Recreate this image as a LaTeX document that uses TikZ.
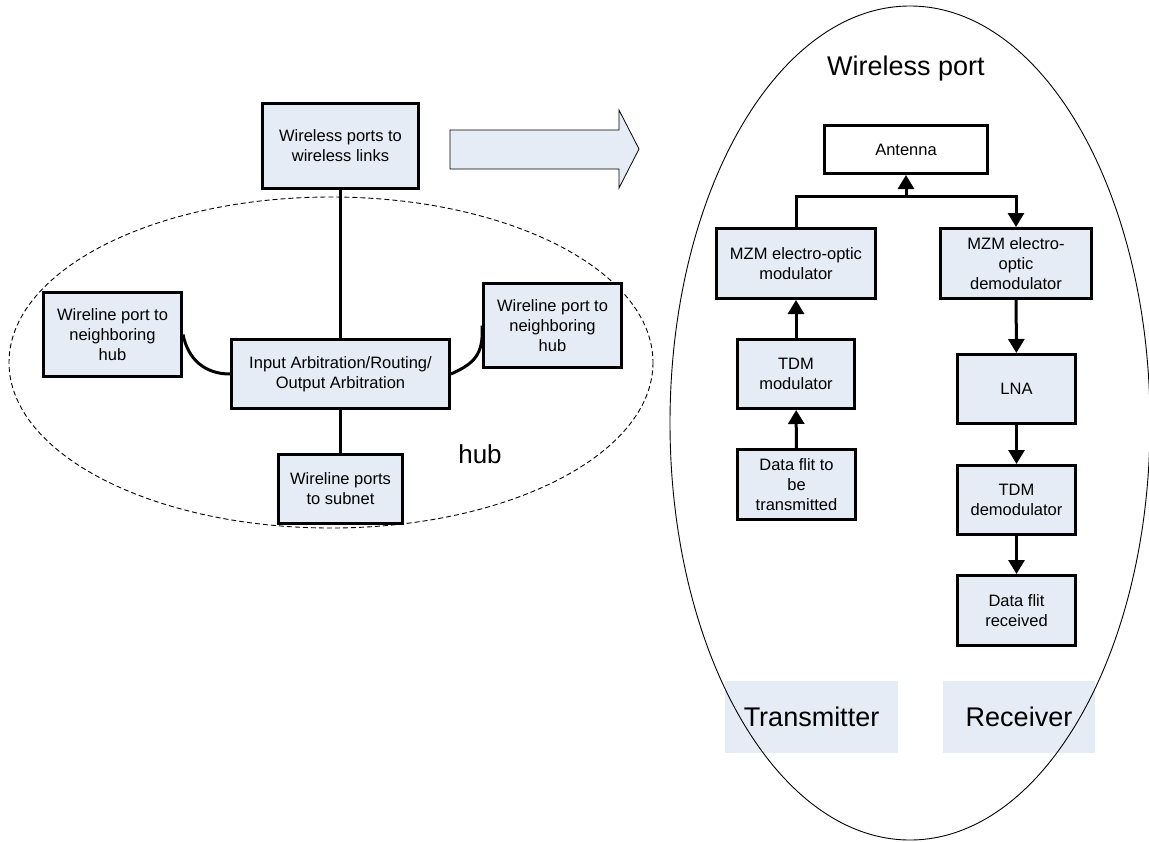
\documentclass[tikz,border=0pt]{standalone}
\usepackage{fontspec}
\setmainfont{Liberation Sans}
\usetikzlibrary{arrows.meta}
\definecolor{boxfill}{RGB}{230,236,246}
\tikzset{
  box/.style={draw=black, line width=3pt, fill=boxfill, align=center,
    inner sep=2pt, font=\fontsize{16.5}{20}\selectfont},
  whitebox/.style={box, fill=white},
  tag/.style={fill=boxfill, draw=none, font=\fontsize{27}{30}\selectfont},
  link/.style={line width=3pt, line join=miter},
  flow/.style={link, -{Triangle[length=14pt,width=16pt]}},
  bigarrow/.style={draw=black, line width=0.8pt, fill=boxfill, line join=miter},
  hubline/.style={line width=0.9pt, dash pattern=on 5pt off 3pt},
  portline/.style={line width=0.9pt}
}
\begin{document}
\begin{tikzpicture}[x=1pt, y=-1pt]
\useasboundingbox (0,0) rectangle (1149,841);

% ---- hub side ----
\draw[hubline] (331,362.5) ellipse [x radius=322, y radius=165.5];

\node[box, minimum width=156, minimum height=85] (wl) at (340.5,146)
  {Wireless ports to\\wireless links};
\node[box, minimum width=138, minimum height=84] (lw) at (112.5,334.5)
  {Wireline port to\\neighboring\\hub};
\node[box, minimum width=218, minimum height=69] (ar) at (340.5,374)
  {Input Arbitration/Routing/\\Output Arbitration};
\node[box, minimum width=138, minimum height=84] (rw) at (552.5,325.5)
  {Wireline port to\\neighboring\\hub};
\node[box, minimum width=124, minimum height=69] (sub) at (340.5,489)
  {Wireline ports\\to subnet};
\node[anchor=base, font=\fontsize{26}{30}\selectfont] (hub) at (480,463) {hub};

\draw[link] (wl) -- (ar);
\draw[link] (ar) -- (sub);
\draw[link] (lw.east) .. controls +(5,25) and +(-25,0) .. (ar.west);
\draw[link] (ar.east) .. controls +(22,-10) and +(2,30) .. (rw.west);

% block arrow pointing to the port detail
\draw[bigarrow] (450,130) -- (619,130) -- (619,110) -- (639,149)
  -- (619,188) -- (619,169) -- (450,169) -- cycle;

% ---- wireless port detail ----
\node[tag, minimum width=173, minimum height=72] (tx) at (811.5,717) {Transmitter};
\node[tag, minimum width=152, minimum height=72] (rx) at (1019,717) {Receiver};

\draw[portline] (910,423) ellipse [x radius=240, y radius=417];

\node[anchor=base, font=\fontsize{27}{30}\selectfont] (title) at (906,75) {Wireless port};

\node[whitebox, minimum width=163, minimum height=48] (ant) at (906,149.5) {Antenna};
\node[box, minimum width=159, minimum height=70] (mzm) at (796,263.5)
  {MZM electro-optic\\modulator};
\node[box, minimum width=151, minimum height=70] (demod) at (1016,263.5)
  {MZM electro-\\optic\\demodulator};
\node[box, minimum width=117, minimum height=69] (tdm) at (796,374)
  {TDM\\modulator};
\node[box, minimum width=118, minimum height=70] (data) at (796.5,484.5)
  {Data flit to\\be\\transmitted};
\node[box, minimum width=118, minimum height=69] (lna) at (1016.5,389) {LNA};
\node[box, minimum width=118, minimum height=69] (tdmd) at (1016.5,500)
  {TDM\\demodulator};
\node[box, minimum width=118, minimum height=70] (recv) at (1016.5,610.5)
  {Data flit\\received};

\coordinate (j) at (906,196);
\draw[link] (mzm.north) |- (j);
\draw[flow] (j) -| (demod.north);
\draw[flow] (j) -- (ant.south);
\draw[flow] (tdm) -- (mzm);
\draw[flow] (data) -- (tdm);
\draw[flow] (demod) -- (lna);
\draw[flow] (lna) -- (tdmd);
\draw[flow] (tdmd) -- (recv);
\end{tikzpicture}
\end{document}
